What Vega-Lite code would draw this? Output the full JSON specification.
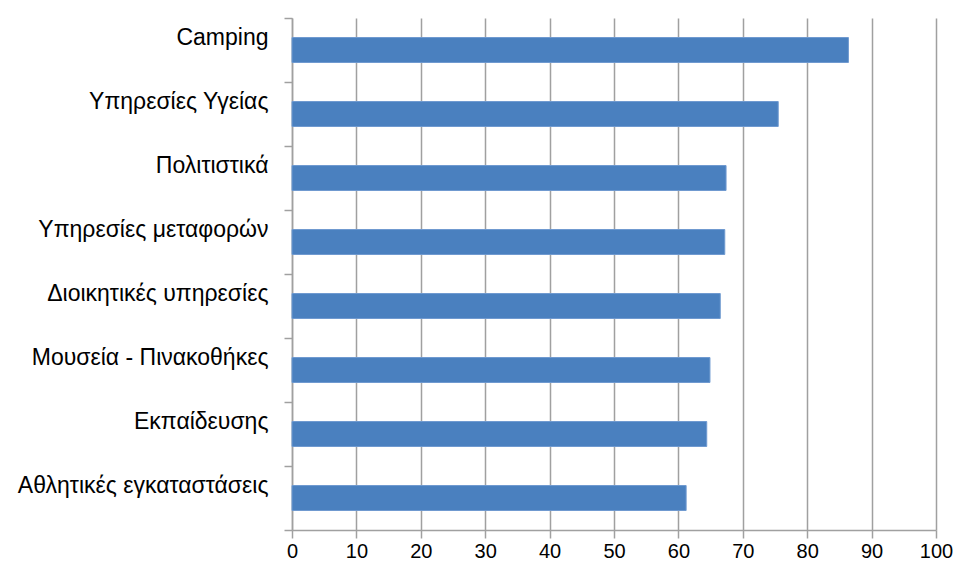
{
  "$schema": "https://vega.github.io/schema/vega-lite/v6.json",
  "autosize": {"type": "none"},
  "width": 644,
  "height": 512,
  "padding": {"left": 292, "top": 18, "right": 21, "bottom": 36},
  "background": "white",
  "data": {
    "values": [
      {"category": "Camping", "value": 86.4},
      {"category": "Υπηρεσίες Υγείας", "value": 75.5},
      {"category": "Πολιτιστικά", "value": 67.4},
      {"category": "Υπηρεσίες μεταφορών", "value": 67.2},
      {"category": "Διοικητικές υπηρεσίες", "value": 66.5},
      {"category": "Μουσεία - Πινακοθήκες", "value": 64.9},
      {"category": "Εκπαίδευσης", "value": 64.4},
      {"category": "Αθλητικές εγκαταστάσεις", "value": 61.2}
    ]
  },
  "config": {
    "view": {"stroke": null},
    "font": "Liberation Sans"
  },
  "mark": {"type": "bar", "color": "#4A80BF", "stroke": "#6F9AD0", "strokeWidth": 1, "height": {"band": 0.39}},
  "encoding": {
    "y": {
      "field": "category",
      "type": "nominal",
      "sort": null,
      "scale": {"paddingInner": 0, "paddingOuter": 0},
      "axis": {
        "title": null,
        "tickBand": "extent",
        "domainColor": "#A0A0A0",
        "domainWidth": 1.5,
        "tickColor": "#A0A0A0",
        "tickWidth": 1.5,
        "tickSize": 8,
        "labelPadding": 16,
        "labelOffset": -13,
        "labelFontSize": 23,
        "labelColor": "#000000",
        "labelFont": "Liberation Sans",
        "labelLimit": 400,
        "grid": false
      }
    },
    "x": {
      "field": "value",
      "type": "quantitative",
      "scale": {"domain": [0, 100], "nice": false},
      "axis": {
        "title": null,
        "values": [0, 10, 20, 30, 40, 50, 60, 70, 80, 90, 100],
        "grid": true,
        "gridColor": "#A0A0A0",
        "gridWidth": 1.5,
        "domainColor": "#A0A0A0",
        "domainWidth": 1.5,
        "tickColor": "#A0A0A0",
        "tickWidth": 1.5,
        "tickSize": 8,
        "labelPadding": 3,
        "labelFontSize": 20,
        "labelColor": "#000000",
        "labelFont": "Liberation Sans",
        "labelFlush": false,
        "labelOverlap": false
      }
    }
  }
}
